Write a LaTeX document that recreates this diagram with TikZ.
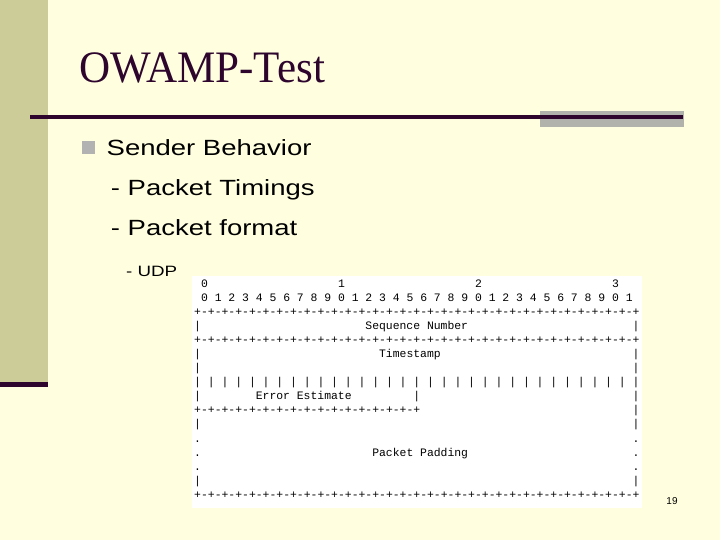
\documentclass[tikz,border=0pt]{standalone}
\usepackage{fontspec}
\setmainfont{Liberation Serif}
\newfontfamily\titlefont[FakeStretch=0.957]{Liberation Serif}
\newfontfamily\slidefont[FakeStretch=1.25]{Liberation Sans}
\newfontfamily\pagefont{Liberation Sans}
\newfontfamily\packetfont{Liberation Mono}
\definecolor{slidebg}{RGB}{255,255,224}
\definecolor{sidebar}{RGB}{204,204,153}
\definecolor{titlecol}{RGB}{45,5,45}
\definecolor{accentgray}{RGB}{178,178,172}
\definecolor{bulletgray}{RGB}{178,178,178}
\begin{document}
\begin{tikzpicture}[x=1pt, y=-1pt,
            titletext/.style={anchor=base west, inner sep=0pt, text=titlecol, font=\titlefont\fontsize{45}{50}\selectfont},
            bodytext/.style={anchor=base west, inner sep=0pt, font=\slidefont\fontsize{22}{26}\selectfont},
            udptext/.style={anchor=base west, inner sep=0pt, font=\slidefont\fontsize{15}{18}\selectfont},
            pagenum/.style={inner sep=0pt, font=\pagefont\fontsize{10}{12}\selectfont},
            pkt/.style={anchor=mid west, inner sep=0pt, font=\packetfont\fontsize{11.4}{14}\selectfont},
        ]
            \useasboundingbox (0,0) rectangle (720,540);
            \fill[slidebg] (0,0) rectangle (720,540);
            \fill[sidebar] (0,0) rectangle (48,382);
            \fill[titlecol] (0,382) rectangle (48,387);
            \fill[accentgray] (540,111) rectangle (684,127);
            \draw[titlecol, line width=3.4pt] (30,117) -- (683,117);

            \node[titletext](title) at (79,83) {OWAMP-Test};
            \fill[bulletgray] (82,141) rectangle (95,154);
            \node[bodytext](sender) at (106.5,155.7) {Sender Behavior};
            \node[bodytext](timings) at (110.7,195.7) {- Packet Timings};
            \node[bodytext](format) at (110.7,235.7) {- Packet format};
            \node[udptext](udp) at (126,276) {- UDP};
            \node[pagenum](pageno) at (672,501.5) {19};

            \fill[white] (192,276) rectangle (642,508);
            \begin{scope}[shift={(194,285)}, x=6.85pt, y=-14.07pt]
                \foreach \t in {0,1,2,3}
                    \node[pkt](tens-\t) at ({20*\t+1},0) {\t};
                \foreach \c [evaluate=\c as \d using {int(mod(\c,10))}, evaluate=\c as \col using {int(2*\c+1)}] in {0,...,31}
                    \node[pkt](bit-\c) at (\col,1) {\d};
                \foreach \r in {2,4,15} {
                    \foreach \c in {0,2,...,64} \node[pkt](plus-\r-\c) at (\c,\r) {+};
                    \foreach \c in {1,3,...,63} \node[pkt](dash-\r-\c) at (\c,\r) {-};
                }
                \foreach \c in {0,2,...,32} \node[pkt](plus-9-\c) at (\c,9) {+};
                \foreach \c in {1,3,...,31} \node[pkt](dash-9-\c) at (\c,9) {-};
                \foreach \c in {0,2,...,64} \node[pkt](tick-\c) at (\c,7) {|};
                \foreach \r in {3,5,6,8,10,14} \node[pkt](left-\r) at (0,\r) {|};
                \foreach \r in {3,5,6,8,9,10,14} \node[pkt](right-\r) at (64,\r) {|};
                \foreach \r in {11,12,13} {
                    \node[pkt](ldot-\r) at (0,\r) {.};
                    \node[pkt](rdot-\r) at (64,\r) {.};
                }
                \node[pkt](errbar) at (32,8) {|};
                \node[pkt](seqnum) at (25,3) {Sequence Number};
                \node[pkt](tstamp) at (27,5) {Timestamp};
                \node[pkt](errest) at (9,8) {Error Estimate};
                \node[pkt](padding) at (26,12) {Packet Padding};
            \end{scope}
        \end{tikzpicture}
\end{document}
